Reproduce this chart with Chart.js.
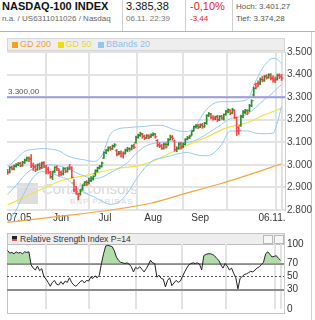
<!DOCTYPE html>
<html>
<head>
<meta charset="utf-8">
<script src="https://cdn.jsdelivr.net/npm/chart.js@4.4.0/dist/chart.umd.min.js"></script>
<style>
body { margin: 0; width: 315px; height: 320px; overflow: hidden; background: #fff; font-family: "Liberation Sans", Arial, sans-serif; position: relative; }
.abs { position: absolute; white-space: nowrap; line-height: 1; }
.linia { position: absolute; background: #cfcfcf; }
#grafic, #graficRsi { position: absolute; left: 0; z-index: 1; }
#grafic { top: 40px; }
#graficRsi { top: 235px; }
.llegenda { position: absolute; left: 7px; top: 38px; width: 278px; height: 13px; box-sizing: border-box; background: #eeeeee; border: 1px solid #d6d6d6; z-index: 2; font-size: 9px; }
.quadre { display: inline-block; width: 6px; height: 6px; margin: 0 2px 0 4px; vertical-align: -1px; }
.rsiCaixa { position: absolute; left: 7px; top: 233px; width: 278px; height: 81px; box-sizing: border-box; border: 1px solid #c4c4c4; }
.rsiCap { position: absolute; left: 0; top: 0; width: 276px; height: 10px; background: #eeeeee; border-bottom: 1px solid #bdbdbd; font-size: 8.5px; color: #333; }
.boto { position: absolute; top: 1px; width: 8px; height: 7px; border: 1px solid #b8b8b8; background: #f6f6f6; }
</style>
</head>
<body>

<!-- capçalera -->
<div class="abs" style="left:2px;top:1px;font-size:11px;font-weight:bold;color:#111">NASDAQ-100 INDEX</div>
<div class="abs" style="left:2px;top:15px;font-size:8px;color:#666">n.a. / US6311011026 / Nasdaq</div>
<div class="abs" style="left:126px;top:1px;font-size:11px;color:#111">3.385,38</div>
<div class="abs" style="left:126px;top:15px;font-size:8px;color:#777">06.11. 22:39</div>
<div class="abs" style="left:190px;top:1px;font-size:11px;color:#e31b1b">-0,10%</div>
<div class="abs" style="left:190px;top:15px;font-size:8px;color:#e31b1b">-3,44</div>
<div class="abs" style="left:236px;top:3px;font-size:8px;color:#555">Hoch: 3.401,27</div>
<div class="abs" style="left:236px;top:15px;font-size:8px;color:#555">Tief: 3.374,28</div>
<div class="linia" style="left:122px;top:0;width:1px;height:31px"></div>
<div class="linia" style="left:185px;top:0;width:1px;height:31px"></div>
<div class="linia" style="left:232px;top:0;width:1px;height:31px"></div>
<div class="linia" style="left:0;top:31px;width:315px;height:1px;background:#b4b4b4"></div>
<div class="linia" style="left:311px;top:32px;width:1px;height:288px"></div>

<!-- llegenda -->
<div class="llegenda">
  <span class="quadre" style="background:#f5a11c"></span><span style="color:#f2a23a">GD 200</span>
  <span class="quadre" style="background:#f0de00"></span><span style="color:#e8d82a">GD 50</span>
  <span class="quadre" style="background:#8ec6f4"></span><span style="color:#8ec0ee">BBands 20</span>
</div>

<!-- marca d'aigua -->
<div class="abs" style="left:17px;top:183px;width:21px;height:21px;background:#dedede"></div>
<div class="abs" style="left:42px;top:181px;font-size:15px;color:#d8d8d8">CortalConsors</div>
<div class="abs" style="left:70px;top:198px;font-size:8px;color:#d8d8d8;letter-spacing:1px">BNP PARIBAS</div>

<canvas id="grafic" width="315" height="184"></canvas>

<!-- panell RSI -->
<div class="rsiCaixa">
  <div class="rsiCap">
    <span class="abs" style="left:4px;top:2px;width:5px;height:5px;background:linear-gradient(#222 50%, #3a3 50%, #3a3 75%, #d55 75%)"></span>
    <span class="abs" style="left:12px;top:1px">Relative Strength Index P=14</span>
    <span class="boto" style="left:255px"></span>
    <span class="boto" style="left:266px"></span>
  </div>
</div>
<canvas id="graficRsi" width="315" height="83"></canvas>

<script>
// Eix X: dies de cotització (0 = 07.05, 128 = 06.11.)
const etiquetesX = ['07.05', 'Jun', 'Jul', 'Aug', 'Sep', '06.11.'];
const posEtiquetesX = [5.3, 25, 45.5, 68, 90, 123.5];
const iniciMes = [18, 38, 60.3, 82, 102.3, 125.5, 128];
const xMin = -0.28, xMax = 129.6;

// Preus (OHLC)
const obertura = [2975,2968,2990,2982,2994,3000,3008,2996,3010,3020,3032,3028,2998,2992,2980,3002,2988,3010,2994,2982,
	2968,2948,2972,2990,2976,2966,2960,2982,2972,2990,2985,2920,2890,2868,2872,2892,2915,2925,2922,2930,
	2938,2960,2975,2988,2994,3030,3055,3066,3076,3072,3085,3062,3048,3058,3050,3052,3064,3070,3070,3086,
	3098,3122,3130,3136,3128,3120,3130,3124,3134,3138,3108,3090,3086,3074,3092,3090,3110,3124,3106,3068,
	3074,3096,3082,3092,3114,3120,3132,3152,3170,3174,3168,3178,3170,3186,3220,3224,3212,3204,3214,3200,
	3216,3204,3224,3236,3240,3230,3240,3208,3165,3175,3212,3232,3238,3240,3262,3310,3356,3360,3362,3380,
	3376,3394,3388,3400,3386,3380,3380,3398,3392];
const maxims = [2980,2992,2995,2999,3006,3010,3012,3016,3026,3034,3036,3045,3008,3000,3004,3008,3012,3014,2998,2990,
	2972,2972,2992,2996,2982,2974,2988,2986,2990,3002,2992,2935,2905,2875,2890,2912,2926,2930,2940,2948,
	2952,2978,2990,2998,3012,3058,3068,3080,3082,3088,3094,3068,3060,3062,3058,3070,3078,3076,3088,3092,
	3128,3136,3145,3140,3132,3134,3134,3138,3142,3140,3112,3098,3092,3096,3098,3116,3132,3130,3110,3080,
	3098,3100,3098,3116,3126,3130,3150,3172,3178,3180,3182,3184,3188,3222,3232,3228,3218,3216,3220,3218,
	3220,3226,3242,3248,3244,3250,3244,3212,3170,3220,3240,3246,3244,3268,3288,3345,3362,3372,3385,3392,
	3396,3400,3404,3404,3394,3390,3402,3404,3401];
const minims = [2958,2964,2978,2978,2990,2996,2992,2994,3006,3016,3014,2988,2975,2970,2976,2978,2984,2986,2960,2960,
	2940,2935,2966,2975,2950,2952,2955,2965,2968,2978,2942,2880,2870,2845,2866,2888,2908,2908,2916,2926,
	2932,2950,2968,2982,2990,3028,3050,3060,3064,3068,3078,3040,3044,3034,3030,3048,3058,3060,3066,3072,
	3096,3118,3126,3118,3112,3116,3116,3120,3128,3118,3080,3076,3068,3070,3074,3086,3110,3110,3060,3058,
	3070,3070,3076,3088,3110,3116,3130,3150,3162,3160,3164,3162,3166,3180,3214,3204,3198,3200,3192,3196,
	3202,3198,3220,3230,3222,3226,3205,3130,3135,3170,3208,3226,3222,3236,3258,3305,3336,3348,3356,3368,
	3370,3380,3384,3376,3366,3364,3376,3382,3374];
const tancaments = [2965,2988,2984,2995,3002,3006,2998,3012,3022,3030,3024,2996,2990,2978,3000,2985,3008,2990,2978,2966,
	2945,2968,2988,2984,2958,2962,2984,2970,2982,2988,2945,2885,2880,2862,2885,2908,2922,2915,2932,2938,
	2948,2972,2985,2992,3008,3055,3065,3075,3070,3082,3088,3045,3052,3040,3048,3066,3072,3068,3082,3078,
	3122,3132,3138,3125,3118,3128,3122,3132,3136,3124,3085,3082,3072,3090,3080,3112,3122,3118,3066,3072,
	3092,3075,3090,3112,3120,3125,3148,3168,3172,3166,3176,3168,3184,3218,3226,3210,3205,3212,3198,3214,
	3208,3222,3238,3244,3228,3246,3210,3150,3152,3215,3236,3242,3230,3262,3284,3338,3345,3355,3378,3372,
	3390,3385,3398,3382,3372,3376,3396,3390,3385];

// Bandes de Bollinger (20)
const diesBanda = [0,4,8,12,16,20,24,28,32,36,40,44,48,52,56,60,64,68,72,76,80,84,88,92,96,100,104,108,112,116,120,124,126,128];
const bandaSup = [2990,3025,3060,3068,3072,3070,3062,3040,3028,3022,3015,3040,3135,3160,3165,3168,3170,3175,3175,3162,3150,3148,3175,3235,3270,3280,3280,3282,3290,3372,3440,3472,3468,3448];
const bandaMitja = [2868,2910,2955,2985,3000,3000,2995,2985,2965,2950,2940,2945,2965,2985,3010,3050,3080,3095,3100,3102,3100,3100,3110,3130,3155,3180,3205,3212,3225,3255,3290,3320,3340,3355];
const bandaInf = [2745,2800,2880,2945,2970,2965,2950,2935,2900,2875,2860,2840,2825,2835,2875,2935,2985,3020,3030,3040,3050,3055,3045,3040,3050,3090,3150,3150,3150,3140,3138,3140,3185,3260];

// Mitjanes mòbils
const diesGd50 = [0,13,26,35,43,52,62,70,77,86,93,102,113,120,128];
const gd50 = [2822,2880,2933,2950,2968,2985,2998,3025,3057,3095,3123,3163,3190,3222,3250];
const diesGd200 = [0,24,48,67,82,99,114,128];
const gd200 = [2745,2772,2800,2830,2870,2915,2960,3005];

const nivellRef = 3300;

// RSI (14)
const rsi = [90,86,87,85,88,86,87,85,88,87,88,68,63,60,66,59,62,50,46,41,
	35,41,44,38,37,42,38,43,41,48,41,37,35,38,42,44,40,44,43,49,
	47,51,48,52,70,85,97,98,97,96,90,80,75,72,71,70,71,69,65,57,
	64,62,65,61,57,62,68,75,71,70,49,52,47,46,34,44,48,36,40,44,
	41,43,50,57,63,68,70,71,70,71,69,60,82,84,85,85,84,82,78,75,
	68,63,70,66,60,63,55,48,31,47,50,53,54,56,58,57,60,63,65,68,
	72,85,88,84,80,81,82,78,75];
const ticksRsi = [0, 30, 50, 70, 100];
const rsiLimit = 70, rsiMig = 50;

Chart.defaults.font.family = '"Liberation Sans", Arial, sans-serif';
Chart.defaults.font.size = 10;
Chart.defaults.color = '#444';

function punts(xs, ys) {
	return xs.map((x, i) => ({ x: x, y: ys[i] }));
}

function format(v) {
	return String(v).replace(/\B(?=(\d{3})+(?!\d))/g, '.');
}

let dies = tancaments.map((v, i) => i);
let colors = tancaments.map((c, i) => c >= obertura[i] ? '#2c8c2c' : '#f24848');

// etiqueta de la línia 3.300
const textRef = {
	id: 'textRef',
	afterDatasetsDraw(chart) {
		let ctx = chart.ctx;
		let y = chart.scales.y.getPixelForValue(nivellRef);
		ctx.save();
		ctx.font = '8px "Liberation Sans", Arial, sans-serif';
		ctx.fillStyle = '#555';
		ctx.textBaseline = 'bottom';
		ctx.fillText('3.300,00', chart.chartArea.left + 1, y - 1);
		ctx.restore();
	}
};

let linia = (dades, color, amplada) => ({
	type: 'line', data: dades, borderColor: color, borderWidth: amplada,
	pointRadius: 0, cubicInterpolationMode: 'monotone', clip: false
});

new Chart(document.getElementById('grafic'), {
	type: 'line',
	data: {
		datasets: [
			{ type: 'scatter', data: punts(dies, tancaments), pointStyle: 'dash', pointRadius: 2, pointRotation: 0,
				pointBorderColor: colors, pointBorderWidth: 1 },
			{ type: 'scatter', data: punts(dies, obertura), pointStyle: 'dash', pointRadius: 2, pointRotation: 180,
				pointBorderColor: colors, pointBorderWidth: 1 },
			{ type: 'bar', data: dies.map(i => ({ x: i, y: [minims[i], maxims[i]] })), backgroundColor: colors,
				barThickness: 1, grouped: false, borderWidth: 0 },
			{ type: 'line', data: [{ x: xMin, y: nivellRef }, { x: xMax, y: nivellRef }], borderColor: '#9b9be6',
				borderWidth: 2, pointRadius: 0 },
			linia(punts(diesBanda, bandaSup), '#96c9f3', 1),
			linia(punts(diesBanda, bandaMitja), '#96c9f3', 1),
			linia(punts(diesBanda, bandaInf), '#96c9f3', 1),
			linia(punts(diesGd50, gd50), '#f1e24c', 1.2),
			linia(punts(diesGd200, gd200), '#f4a640', 1.2)
		]
	},
	options: {
		responsive: false,
		animation: false,
		layout: { padding: { left: 7, top: 12, right: 0, bottom: 0 } },
		plugins: { legend: { display: false }, tooltip: { enabled: false } },
		scales: {
			x: {
				type: 'linear', min: xMin, max: xMax, offset: false,
				grid: { display: false, drawTicks: false, offset: false }, border: { display: false },
				afterBuildTicks: s => { s.ticks = posEtiquetesX.map(v => ({ value: v })); },
				afterFit: s => { s.height = 14; },
				ticks: { autoSkip: false, maxRotation: 0, minRotation: 0, padding: 2, color: '#333',
					callback: (v, i) => etiquetesX[i] }
			},
			xg: {
				type: 'linear', position: 'top', min: xMin, max: xMax, offset: false,
				grid: { color: '#e3e3e3', lineWidth: 2, drawTicks: false, offset: false }, border: { display: false },
				afterBuildTicks: s => { s.ticks = iniciMes.map(v => ({ value: v })); },
				afterFit: s => { s.height = 0; },
				ticks: { display: false }
			},
			y: {
				position: 'right', min: 2800, max: 3500,
				grid: { color: '#e3e3e3', lineWidth: 2, drawTicks: false },
				border: { display: true, color: '#d0d0d0' },
				afterFit: s => { s.width = 30; },
				ticks: { stepSize: 100, padding: 2, color: '#444', callback: v => format(v) }
			}
		}
	},
	plugins: [textRef]
});

// GRÀFIC RSI
new Chart(document.getElementById('graficRsi'), {
	type: 'line',
	data: {
		datasets: [
			{ data: punts(dies, rsi), borderColor: '#222', borderWidth: 1, pointRadius: 0,
				fill: { target: { value: rsiLimit }, above: '#b2ddab', below: 'rgba(0,0,0,0)' } },
			{ data: [{ x: xMin, y: rsiMig }, { x: xMax, y: rsiMig }], borderColor: '#555', borderWidth: 1,
				borderDash: [2, 2], pointRadius: 0 }
		]
	},
	options: {
		responsive: false,
		animation: false,
		layout: { padding: { left: 7, top: 8, right: 0, bottom: 7 } },
		plugins: { legend: { display: false }, tooltip: { enabled: false } },
		scales: {
			x: {
				type: 'linear', min: xMin, max: xMax,
				grid: { color: '#e3e3e3', lineWidth: 2, drawTicks: false }, border: { display: false },
				afterBuildTicks: s => { s.ticks = iniciMes.map(v => ({ value: v })); },
				afterFit: s => { s.height = 0; },
				ticks: { display: false }
			},
			y: {
				position: 'right', min: 0, max: 100,
				grid: {
					drawTicks: false, lineWidth: 2,
					color: c => (c.tick.value == 30 || c.tick.value == 70) ? '#8c8c8c' : 'rgba(0,0,0,0)'
				},
				border: { display: true, color: '#d0d0d0' },
				afterBuildTicks: s => { s.ticks = ticksRsi.map(v => ({ value: v })); },
				afterFit: s => { s.width = 31; },
				ticks: { padding: 3, color: '#333', callback: v => v }
			}
		}
	}
});
</script>
</body>
</html>
